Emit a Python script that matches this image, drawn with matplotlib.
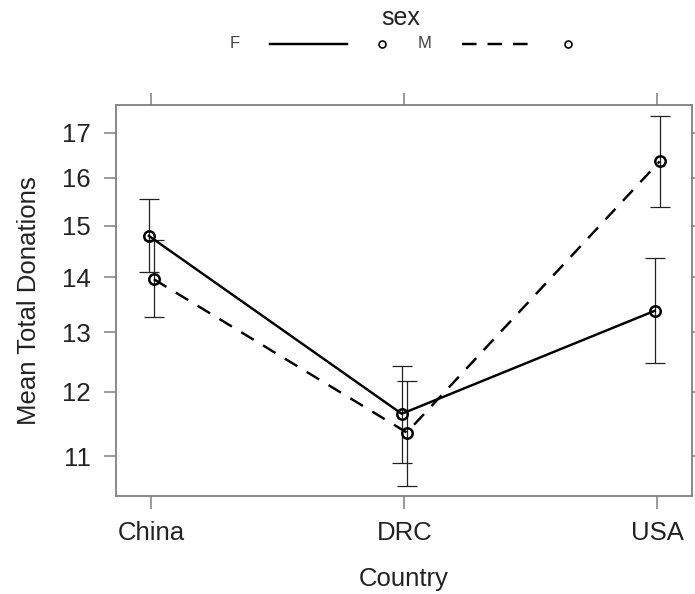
import matplotlib
matplotlib.use("Agg")
import matplotlib.pyplot as plt
from matplotlib.lines import Line2D
from matplotlib.ticker import FixedLocator, NullLocator, FixedFormatter

plt.rcParams['font.family'] = ['Liberation Sans', 'DejaVu Sans']

# Effect estimates of Country by sex with confidence bounds
countries = ["China", "DRC", "USA"]
f_mean = [14.80, 11.65, 13.38]
f_lo = [14.10, 10.90, 12.47]
f_hi = [15.56, 12.43, 14.37]
m_mean = [13.96, 11.36, 16.36]
m_lo = [13.27, 10.57, 15.38]
m_hi = [14.72, 12.18, 17.40]
y_ticks = [11, 12, 13, 14, 15, 16, 17]
sex_levels = ["F", "M"]

W, H = 695, 594
fig = plt.figure(figsize=(W / 100, H / 100), dpi=100)
ax = fig.add_axes([115.5 / W, 1 - 496 / H, (691.5 - 115.5) / W, (496 - 105) / H])

frame_col = "#808080"
text_col = "#222222"
x = [1, 2, 3]
off = 0.01
dash = (0, (6, 4.5))
series = [
    (f_mean, f_lo, f_hi, -off, "-"),
    (m_mean, m_lo, m_hi, off, dash),
]
for mean, lo, hi, dx, ls in series:
    xs = [v + dx for v in x]
    yerr = [[m - l for m, l in zip(mean, lo)], [h - m for m, h in zip(mean, hi)]]
    ax.errorbar(xs, mean, yerr=yerr, fmt="none", ecolor="#222222", elinewidth=0.9,
                capsize=7.2, capthick=0.9, zorder=2)
    ax.plot(xs, mean, color="black", lw=1.75, ls=ls, marker="o", ms=7.5,
            mfc="none", mec="black", mew=1.8, zorder=3)

ax.set_yscale("log")
ax.set_ylim(10.43, 17.65)
ax.set_xlim(0.858, 3.136)
ax.yaxis.set_major_locator(FixedLocator(y_ticks))
ax.yaxis.set_major_formatter(FixedFormatter([str(v) for v in y_ticks]))
ax.yaxis.set_minor_locator(NullLocator())
ax.set_xticks(x)
ax.set_xticklabels(countries)

for s in ax.spines.values():
    s.set_color(frame_col)
    s.set_linewidth(1.3)
ax.tick_params(axis="both", which="major", direction="out", length=9, width=1.1,
               color=frame_col, labelsize=18.5, labelcolor=text_col, pad=9,
               top=True, right=True, labeltop=False, labelright=False)

ax.set_xlabel("Country", fontsize=18.5, labelpad=16, color=text_col)
ax.set_ylabel("Mean Total Donations", fontsize=18.5, labelpad=15, color=text_col)


def fp(px, py):
    return px / W, 1 - py / H


# Key above the panel
fig.text(*fp(401, 18), "sex", ha="center", va="center", fontsize=18, color=text_col)
row_y = 44
fig.text(*fp(235, row_y), "F", ha="center", va="center", fontsize=12, color="#444444")
fig.text(*fp(425, row_y), "M", ha="center", va="center", fontsize=12, color="#444444")
for (x0, x1), (cx), ls in [((270, 347), 382, "-"), ((462, 532), 568, dash)]:
    (ax0, ay), (ax1, _) = fp(x0, row_y), fp(x1, row_y)
    fig.add_artist(Line2D([ax0, ax1], [ay, ay], transform=fig.transFigure,
                          color="black", lw=1.75, ls=ls))
    mx, my = fp(cx, row_y)
    fig.add_artist(Line2D([mx], [my], transform=fig.transFigure, marker="o",
                          ms=5, mfc="none", mec="black", mew=1.2, ls="none"))

fig.savefig("out.png", dpi=100)
